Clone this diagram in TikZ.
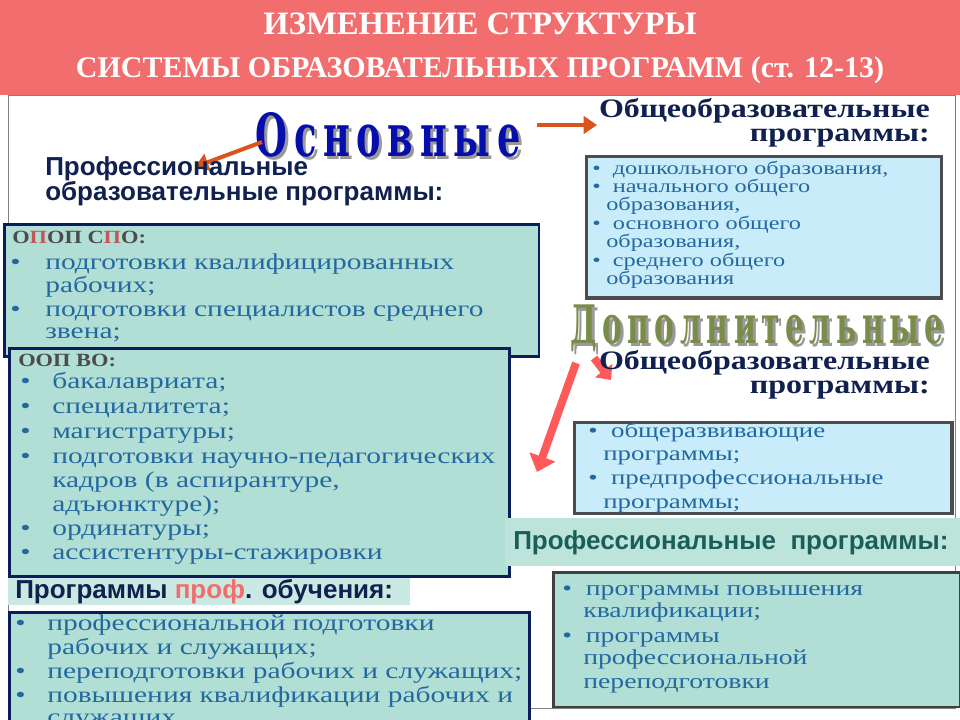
\documentclass[tikz,border=0pt]{standalone}
\usepackage{fontspec}
\setmainfont{Liberation Serif}
\setsansfont{Liberation Sans}
\newfontfamily\bigserif{DejaVu Serif Condensed}
\newfontfamily\bodyf[FakeStretch=1.3]{Liberation Serif}
\newfontfamily\ttlf[FakeStretch=1.2]{Liberation Serif}
\usetikzlibrary{arrows.meta}
\definecolor{hdr}{HTML}{F26D6D}
\definecolor{teal}{HTML}{B2DFD5}
\definecolor{lblue}{HTML}{C8ECFA}
\definecolor{navy}{HTML}{0B1D5A}
\definecolor{txtb}{HTML}{2468A0}
\definecolor{dnavy}{HTML}{10204F}
\definecolor{green}{HTML}{7A8C4A}
\definecolor{orng}{HTML}{D9541E}
\definecolor{tealtx}{HTML}{1A5E5A}
\begin{document}
\begin{tikzpicture}[x=0.75pt,y=-0.75pt,
  fs/.style={font=\bodyf\fontsize{#1}{#1}\selectfont},
  bt/.style={anchor=base west,inner sep=0pt,text=txtb,font=\bodyf\fontsize{15}{15}\selectfont},
  bul/.style={anchor=base west,inner sep=0pt,text=txtb,font=\bodyf\fontsize{14}{14}\selectfont},
  tealbox/.style={draw=navy,line width=2pt,fill=teal},
  bluebox/.style={draw=black!70,line width=2.5pt,fill=lblue},
  hd/.style={anchor=base west,inner sep=0pt,text=black!70,font=\ttlf\bfseries\fontsize{14}{14}\selectfont},
  ttl/.style={inner sep=0pt,text=dnavy,font=\ttlf\bfseries\fontsize{20}{18}\selectfont},
  sttl/.style={inner sep=0pt,text=dnavy,font=\sffamily\bfseries\fontsize{19.5}{18}\selectfont},
  oarrow/.style={draw=orng,line width=3pt,-{Triangle[length=10pt,width=13pt]}},
  rarrow/.style={draw=red!65,line width=6pt}]
\useasboundingbox (0,0) rectangle (960,720);
\fill[white] (0,0) rectangle (960,720);
\draw[black!50,line width=0.6pt] (8,95) rectangle (955,708);
% header
\fill[hdr] (0,0) rectangle (960,95);
\node[text=white,font=\bfseries\fontsize{24.5}{24}\selectfont] (h1) at (480,24) {ИЗМЕНЕНИЕ СТРУКТУРЫ};
\node[text=white,font=\bfseries\fontsize{22.5}{22}\selectfont] (h2) at (480,70) {СИСТЕМЫ ОБРАЗОВАТЕЛЬНЫХ ПРОГРАММ (ст. 12-13)};
% Основные
\node[text=black!40,inner sep=0pt] at (391,138) {\resizebox{199pt}{33pt}{\bigserif\bfseries О\,с\,н\,о\,в\,н\,ы\,е}};
\node[text=blue!50!navy,inner sep=0pt] (osn) at (388,135) {\resizebox{199pt}{33pt}{\bigserif\bfseries О\,с\,н\,о\,в\,н\,ы\,е}};
\coordinate (a1s) at (262,142); \coordinate (a1e) at (195,167);
\draw[oarrow] (a1s) -- (a1e);
\coordinate (a2s) at (537,125); \coordinate (a2e) at (597,125);
\draw[oarrow] (a2s) -- (a2e);
% general programs (top right)
\node[ttl,anchor=north east,align=right] (og1) at (930,98) {Общеобразовательные\\программы:};
\node[bluebox,anchor=north west,inner sep=0pt,minimum width=266pt,minimum height=106pt] (b1) at (585,155) {};
\node[bul] at (592,175) {•\ \ дошкольного образования,};
\node[bul] at (592,193) {•\ \ начального общего};
\node[bul] at (606,211) {образования,};
\node[bul] at (592,230) {•\ \ основного общего};
\node[bul] at (606,248) {образования,};
\node[bul] at (592,267) {•\ \ среднего общего};
\node[bul] at (606,285) {образования};
% prof programs title
\node[sttl,anchor=north west,align=left] (pp) at (45,156) {Профессиональные\\образовательные программы:};
% ОПОП СПО box
\node[tealbox,anchor=north west,minimum width=401pt,minimum height=99pt] (b2) at (3,223) {};
\node[hd] at (12,244) {О\textcolor{hdr!80!black}{П}ОП С\textcolor{hdr!80!black}{П}О:};
\node[bt,fs=17] at (10,270) {•};
\node[bt,fs=17] at (45,270) {подготовки квалифицированных};
\node[bt,fs=17] at (45,292) {рабочих;};
\node[bt,fs=17] at (10,316) {•};
\node[bt,fs=17] at (45,316) {подготовки специалистов среднего};
\node[bt,fs=17] at (45,338) {звена;};
% ООП ВО box
\node[tealbox,anchor=north west,minimum width=375pt,minimum height=171pt] (b3) at (8,347) {};
\node[hd] at (18,366) {ООП ВО:};
\foreach \t/\yy in {бакалавриата;/388,специалитета;/413,магистратуры;/438,подготовки научно-педагогических/463,ординатуры;/535,ассистентуры-стажировки/559}
  {\node[bt,fs=17] at (20,\yy) {•}; \node[bt,fs=17] at (52,\yy) {\t};}
\node[bt,fs=17] at (52,487) {кадров (в аспирантуре,};
\node[bt,fs=17] at (52,511) {адъюнктуре);};
% prof training
\fill[teal!70] (8,578) rectangle (410,605);
\node[sttl,anchor=base west] (pt) at (15,598) {Программы \textcolor{hdr}{проф}. обучения:};
\begin{scope}
\clip (0,600) rectangle (960,720);
\node[tealbox,anchor=north west,minimum width=390pt,minimum height=100pt] (b4) at (8,611) {};
\foreach \t/\yy in {профессиональной подготовки/630,переподготовки рабочих и служащих;/678,повышения квалификации рабочих и/702}
  {\node[bt,fs=17] at (15,\yy) {•}; \node[bt,fs=17] at (47,\yy) {\t};}
\node[bt,fs=17] at (47,654) {рабочих и служащих;};
\node[bt,fs=17] at (47,724) {служащих};
\end{scope}
% Дополнительные
\node[text=black!40,inner sep=0pt] at (760,331) {\resizebox{280pt}{29pt}{\bigserif\bfseries Д\,о\,п\,о\,л\,н\,и\,т\,е\,л\,ь\,н\,ы\,е}};
\node[text=green,inner sep=0pt] (dop) at (757,328) {\resizebox{280pt}{29pt}{\bigserif\bfseries Д\,о\,п\,о\,л\,н\,и\,т\,е\,л\,ь\,н\,ы\,е}};
\coordinate (r1s) at (576,363); \coordinate (r1e) at (537,472);
\coordinate (r2s) at (594,358); \coordinate (r2e) at (611,380);
\draw[rarrow,-{Triangle[length=12pt,width=20pt]}] (r1s) -- (r1e);
\draw[rarrow,-{Triangle[length=9pt,width=16pt]}] (r2s) -- (r2e);
\node[ttl,anchor=north east,align=right] (og2) at (930,350) {Общеобразовательные\\программы:};
\node[bluebox,anchor=north west,minimum width=283pt,minimum height=68pt] (b5) at (573,421) {};
\node[bul,fs=15.5] at (588,437) {•\ \ общеразвивающие};
\node[bul,fs=15.5] at (603,460) {программы;};
\node[bul,fs=15.5] at (588,484) {•\ \ предпрофессиональные};
\node[bul,fs=15.5] at (603,508) {программы;};
% professional programs
\fill[teal!85] (505,518) rectangle (960,566);
\node[sttl,text=tealtx,anchor=west] (prp) at (513,543) {Профессиональные\ \ программы:};
\node[draw=black!75,line width=2pt,fill=teal,anchor=north west,minimum width=305pt,minimum height=101pt] (b6) at (552,571) {};
\node[bul,fs=16] at (562,595) {•\ \ программы повышения};
\node[bul,fs=16] at (583,617) {квалификации;};
\node[bul,fs=16] at (562,642) {•\ \ программы};
\node[bul,fs=16] at (583,664) {профессиональной};
\node[bul,fs=16] at (583,688) {переподготовки};
\end{tikzpicture}
\end{document}
